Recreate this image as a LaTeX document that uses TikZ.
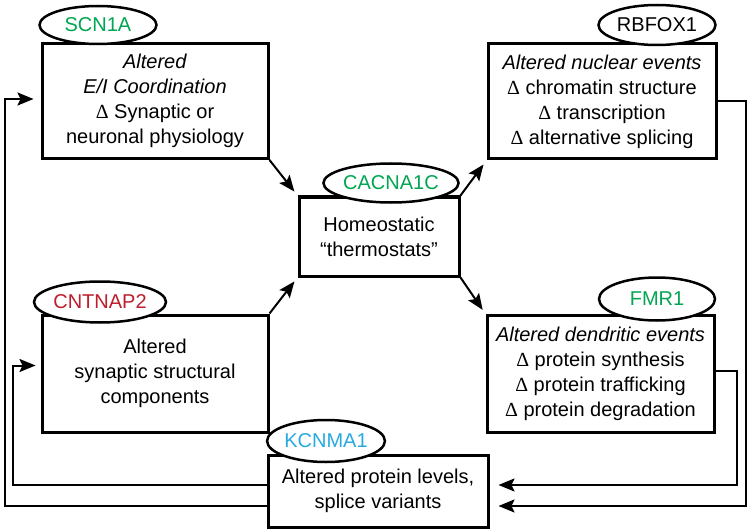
\documentclass[tikz,border=0pt]{standalone}
\usepackage{fontspec}
\setmainfont{Liberation Sans}
\newfontfamily\dsym{Liberation Serif}
\usetikzlibrary{shapes.geometric,arrows.meta,calc}
\definecolor{ggreen}{RGB}{0,166,81}
\definecolor{gred}{RGB}{190,30,45}
\definecolor{gblue}{RGB}{39,170,225}
\newcommand\dlt{{\dsym Δ}\ }
\begin{document}
\begin{tikzpicture}[x=1pt,y=-1pt,
 box/.style={draw,line width=3pt,rectangle,inner sep=0pt,align=center,font=\fontsize{20}{25}\selectfont},
 tag/.style={draw,line width=2.5pt,ellipse,fill=white,inner sep=0pt,font=\fontsize{20}{24}\selectfont},
 arr/.style={line width=2pt,-{Stealth[length=16pt,width=13pt,inset=3pt]},shorten >=5pt},
 farr/.style={arr,shorten >=9pt}]
\useasboundingbox (0,0) rectangle (750,532);

\node[box,minimum width=226pt,minimum height=115pt] (scn) at (155,101)
  {\textit{Altered}\\ \textit{E/I Coordination}\\ \dlt Synaptic or\\ neuronal physiology};
\node[box,minimum width=228pt,minimum height=115pt] (rbf) at (602,101.5)
  {\textit{Altered nuclear events}\\ \dlt chromatin structure\\ \dlt transcription\\ \dlt alternative splicing};
\node[box,minimum width=160pt,minimum height=79pt] (cac) at (379,236.5)
  {Homeostatic\\ “thermostats”};
\node[box,minimum width=226pt,minimum height=117pt] (cnt) at (155,373.5)
  {Altered\\ synaptic structural\\ components};
\node[box,minimum width=227pt,minimum height=117pt] (fmr) at (600.5,374)
  {\textit{Altered dendritic events}\\ \dlt protein synthesis\\ \dlt protein trafficking\\ \dlt protein degradation};
\node[box,minimum width=220pt,minimum height=72pt] (kcn) at (378,491)
  {Altered protein levels,\\ splice variants};

\node[tag,minimum width=117pt,minimum height=38pt,text=ggreen] (tscn) at (98,25) {SCN1A};
\node[tag,minimum width=117pt,minimum height=40pt] (trbf) at (657,25) {RBFOX1};
\node[tag,minimum width=116pt,minimum height=39pt,text=ggreen] (tcac) at (391,183) {CACNA1C};
\node[tag,minimum width=116pt,minimum height=41pt,text=gred] (tcnt) at (100,302) {CNTNAP2};
\node[tag,minimum width=116pt,minimum height=43pt,text=ggreen] (tfmr) at (657,299) {FMR1};
\node[tag,minimum width=115pt,minimum height=42pt,text=gblue] (tkcn) at (326,441) {KCNMA1};

\draw[arr] (scn.south east) -- (cac.north west);
\draw[arr] (cnt.north east) -- (cac.south west);
\draw[arr] (cac.north east) -- (rbf.south west);
\draw[arr] (cac.south east) -- (fmr.north west);

\coordinate (c1) at (5,0);
\coordinate (c2) at (13,0);
\coordinate (c3) at (746,0);
\coordinate (c4) at (737,0);
\coordinate (kin1) at ([yshift=-15pt]kcn.west);
\coordinate (kin2) at ([yshift=6pt]kcn.west);
\coordinate (kout1) at ([yshift=-15pt]kcn.east);
\coordinate (kout2) at ([yshift=6pt]kcn.east);
\coordinate (cntin) at ([yshift=8pt]cnt.west);
\coordinate (scnin) at ([yshift=2pt]scn.west);
\coordinate (fmrout) at ([yshift=3pt]fmr.east);

\draw[arr,shorten >=7pt] (kin1) -| (c1 |- scnin) -- (scnin);
\draw[arr] (kin2) -| (c2 |- cntin) -- (cntin);
\draw[farr] (rbf.east) -| (c3 |- kout1) -- (kout1);
\draw[farr] (fmrout) -| (c4 |- kout2) -- (kout2);
\end{tikzpicture}
\end{document}
